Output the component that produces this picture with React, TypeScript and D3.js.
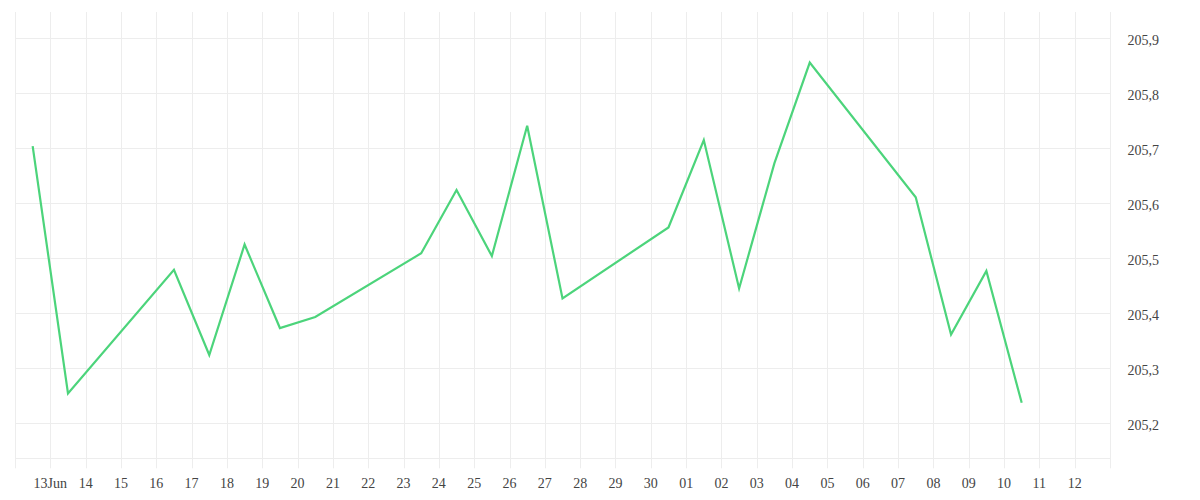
import React, { useEffect, useRef } from 'react';
import * as d3 from 'd3';

// daily readings, taken at midday
const dates: string[] = [
  '2024-06-12', '2024-06-13', '2024-06-16', '2024-06-17', '2024-06-18', '2024-06-19',
  '2024-06-20', '2024-06-23', '2024-06-24', '2024-06-25', '2024-06-26', '2024-06-27',
  '2024-06-30', '2024-07-01', '2024-07-02', '2024-07-03', '2024-07-04', '2024-07-07',
  '2024-07-08', '2024-07-09', '2024-07-10'
];
const values: number[] = [
  205.704, 205.254, 205.479, 205.324, 205.525, 205.373,
  205.393, 205.509, 205.624, 205.504, 205.741, 205.427,
  205.556, 205.715, 205.445, 205.673, 205.856, 205.611,
  205.361, 205.477, 205.237
];
const yTicks: number[] = [205.2, 205.3, 205.4, 205.5, 205.6, 205.7, 205.8, 205.9];
const xStart = '2024-06-12';
const xEnd = '2024-07-13';
const yDomain: [number, number] = [205.136, 205.948];

const WIDTH = 1200;
const HEIGHT = 500;
const margin = { top: 12, right: 90, bottom: 41.7, left: 15 };
const FONT = '"Liberation Serif", "Times New Roman", serif';

const parse = d3.utcParse('%Y-%m-%d');
const fmtDay = d3.utcFormat('%d');

export default function App() {
  const svgRef = useRef<SVGSVGElement>(null);

  useEffect(() => {
    document.body.style.margin = '0';
    if (!svgRef.current) return;
    const svg = d3.select(svgRef.current);
    svg.selectAll('*').remove();

    const x = d3.scaleUtc()
      .domain([parse(xStart)!, parse(xEnd)!])
      .range([margin.left, WIDTH - margin.right]);
    const y = d3.scaleLinear()
      .domain(yDomain)
      .range([HEIGHT - margin.bottom, margin.top]);

    const x0 = margin.left;
    const x1 = WIDTH - margin.right;
    const yBottom = HEIGHT - margin.bottom;
    const grid = '#ededed';

    // vertical day lines, running a bit past the axis as ticks
    const days = d3.utcDay.range(parse(xStart)!, d3.utcDay.offset(parse(xEnd)!, 1));
    svg.append('g')
      .selectAll('line')
      .data(days)
      .join('line')
      .attr('x1', d => Math.round(x(d)) + 0.5)
      .attr('x2', d => Math.round(x(d)) + 0.5)
      .attr('y1', margin.top)
      .attr('y2', yBottom + 10)
      .attr('stroke', grid)
      .attr('stroke-width', 1);

    // horizontal lines
    svg.append('g')
      .selectAll('line')
      .data(yTicks)
      .join('line')
      .attr('x1', x0)
      .attr('x2', x1)
      .attr('y1', d => Math.round(y(d)) + 0.5)
      .attr('y2', d => Math.round(y(d)) + 0.5)
      .attr('stroke', grid);

    svg.append('line')
      .attr('x1', x0).attr('x2', x1)
      .attr('y1', Math.round(yBottom) + 0.5).attr('y2', Math.round(yBottom) + 0.5)
      .attr('stroke', grid);

    // x labels
    const labelDays = days.filter(d => d > parse(xStart)! && d < parse(xEnd)!);
    svg.append('g')
      .selectAll('text')
      .data(labelDays)
      .join('text')
      .attr('x', d => x(d))
      .attr('y', 487.7)
      .attr('text-anchor', 'middle')
      .style('font-family', FONT)
      .style('font-size', '14px')
      .attr('fill', '#444')
      .text((d, i) => (i === 0 ? fmtDay(d) + 'Jun' : fmtDay(d)));

    // y labels on the right
    svg.append('g')
      .selectAll('text')
      .data(yTicks)
      .join('text')
      .attr('x', 1127.5)
      .attr('y', d => y(d) + 6.5)
      .style('font-family', FONT)
      .style('font-size', '14px')
      .attr('fill', '#444')
      .text(d => d3.format('.1f')(d).replace('.', ','));

    const line = d3.line<number>()
      .x((_, i) => x(d3.utcHour.offset(parse(dates[i])!, 12)))
      .y(d => y(d));

    svg.append('path')
      .datum(values)
      .attr('d', line)
      .attr('fill', 'none')
      .attr('stroke', '#4cd47b')
      .attr('stroke-width', 2.2)
      .attr('stroke-linejoin', 'miter');
  }, []);

  return <svg ref={svgRef} width={WIDTH} height={HEIGHT} style={{ display: 'block' }} />;
}
